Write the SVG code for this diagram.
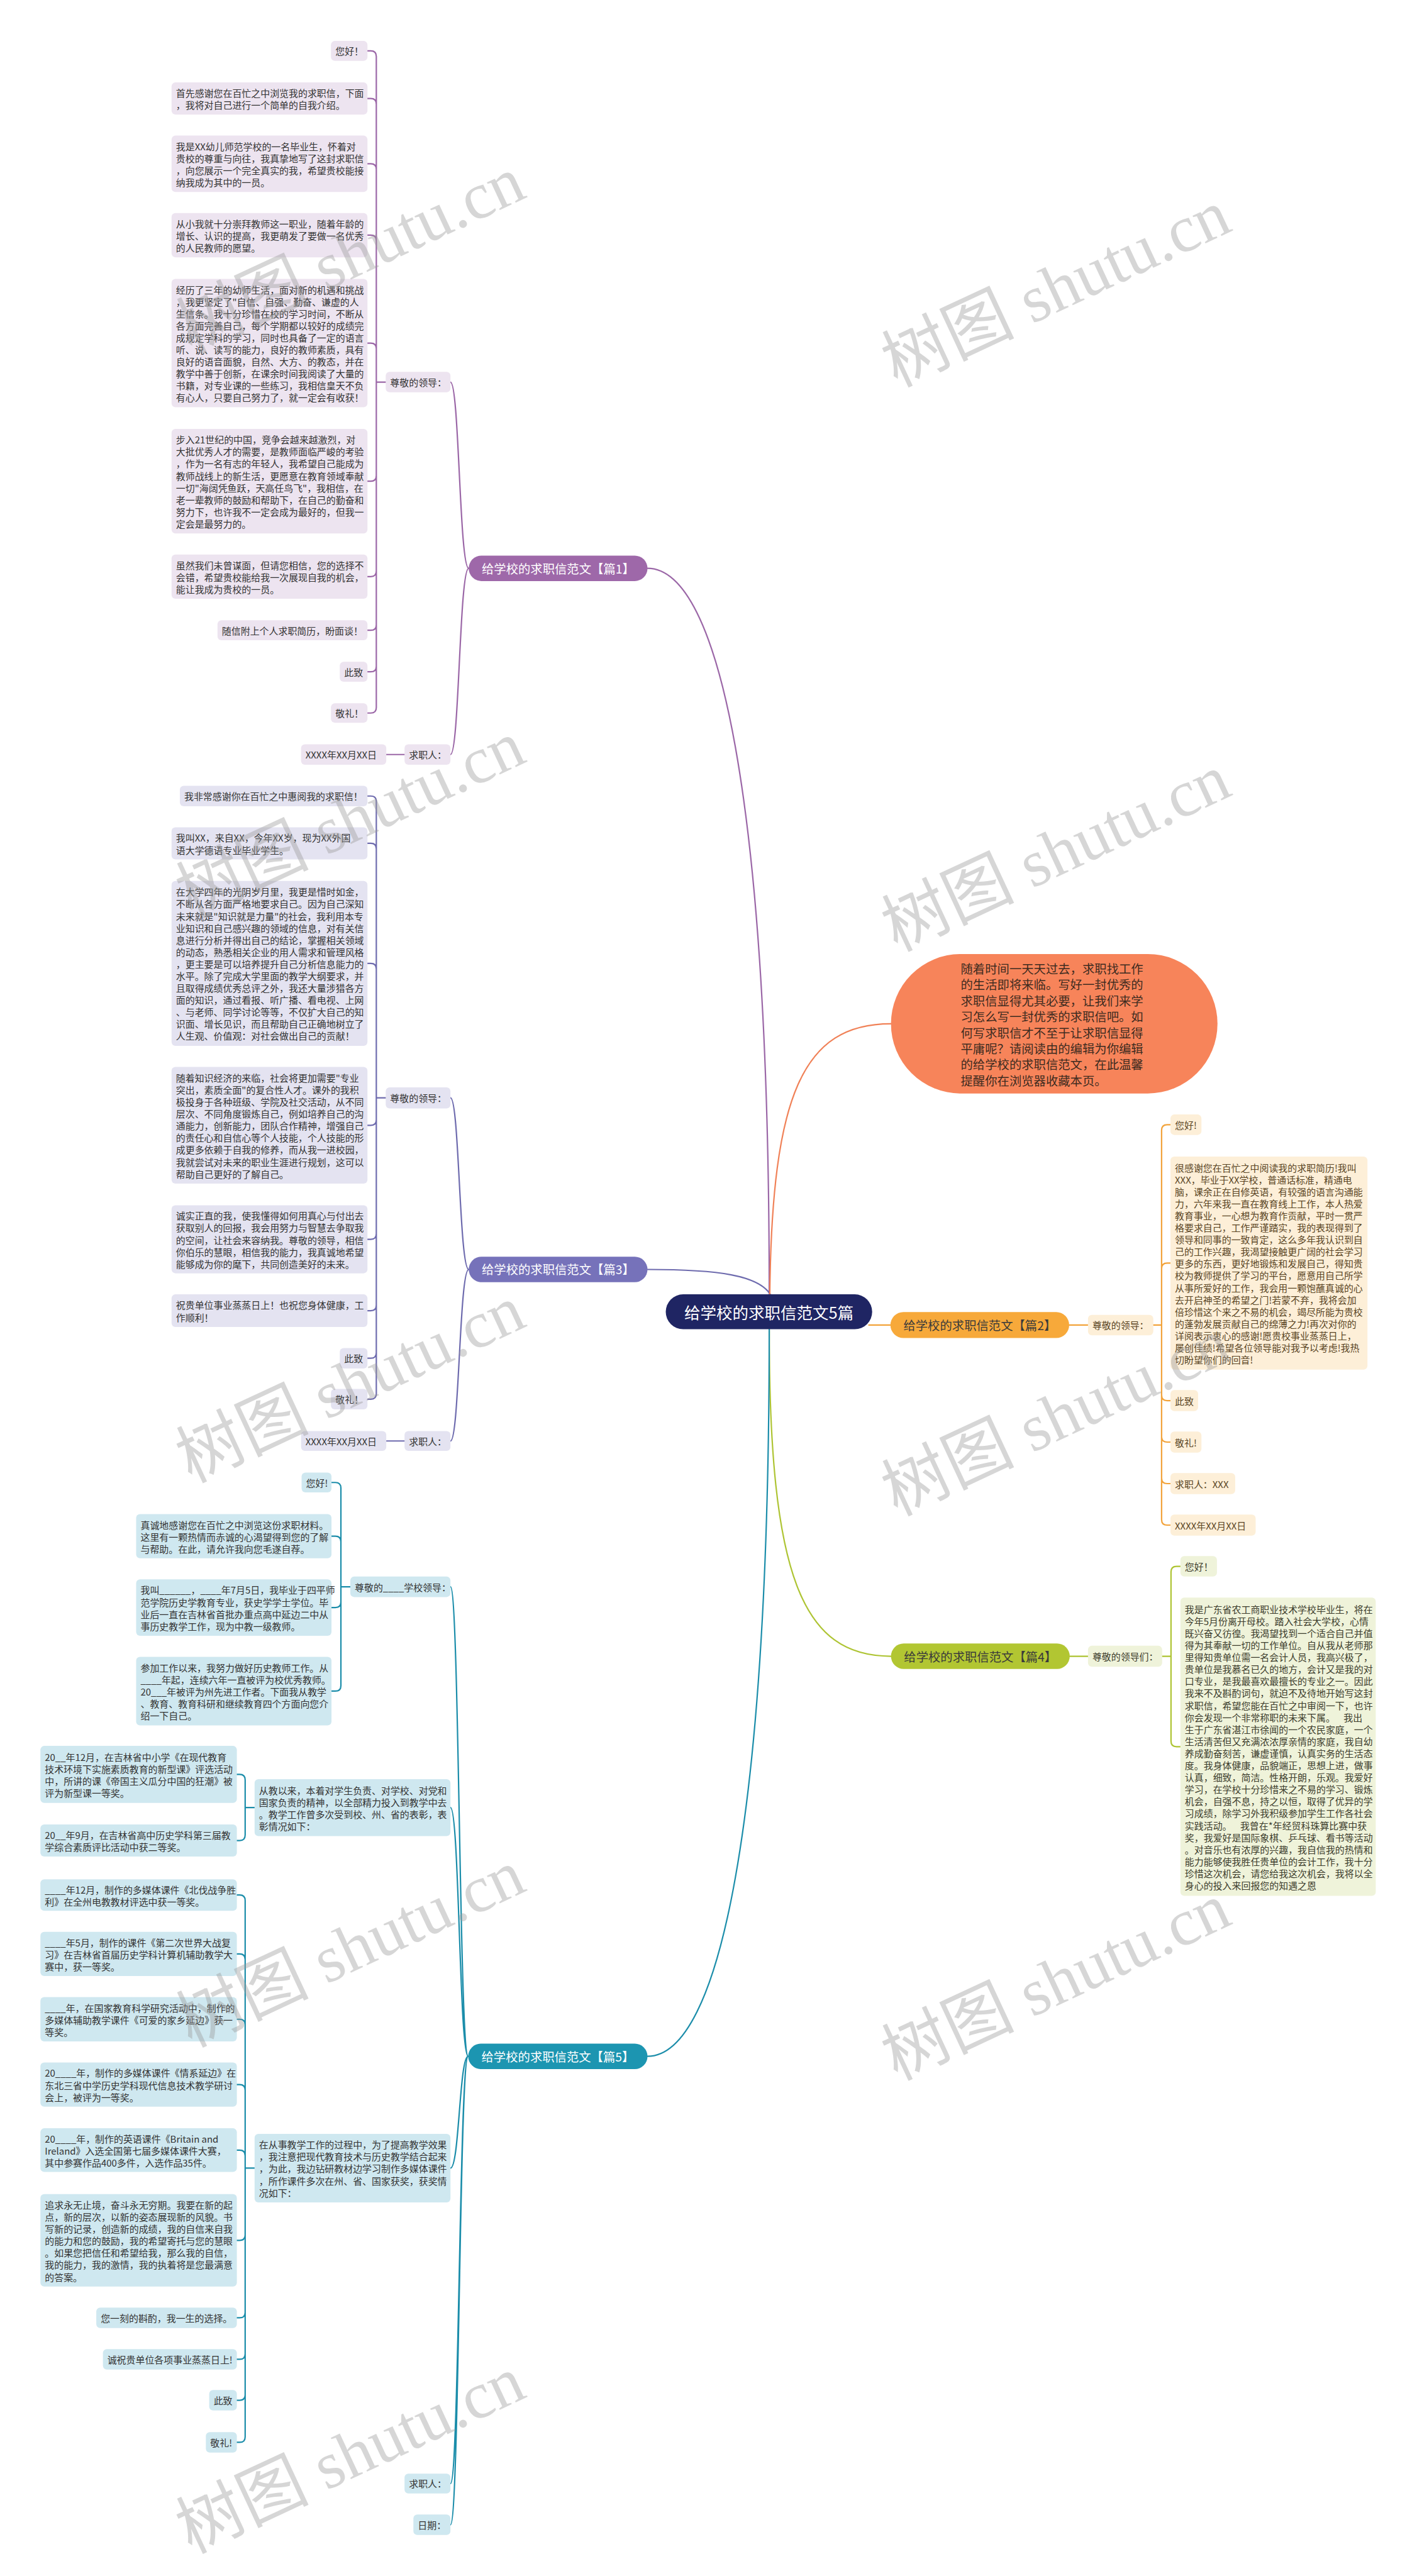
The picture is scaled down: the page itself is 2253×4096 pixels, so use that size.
<svg xmlns="http://www.w3.org/2000/svg" width="2253" height="4096" viewBox="0 0 2253 4096">
<style>
text{font-family:"Noto Sans CJK SC","Noto Sans",sans-serif;dominant-baseline:central}
.t{font-size:17px;fill:#333}
.t2{font-size:17px;fill:#5a4524}
.t4{font-size:17px;fill:#3c3c2c}
.bn{font-size:22px;text-anchor:middle}
.f1{fill:#EDE4F0}.f3{fill:#E4E3F1}.f5{fill:#CFE8F0}.f2{fill:#FDEFD8}.f4{fill:#EFF3DA}
.k{fill:none;stroke-width:2.5;stroke-linecap:round}
.k1{stroke:#9B67A7}.k3{stroke:#6E6BAE}.k5{stroke:#1B8DAA}.k2{stroke:#F2A33B}.k4{stroke:#AEC433}.k0{stroke:#F08157}
.wm{font-family:"Liberation Serif","Noto Sans CJK SC",serif;font-size:120px;fill:#9a9a9a;opacity:.4;dominant-baseline:auto}
</style>
<rect width="2253" height="4096" fill="#fff"/>
<g transform="scale(0.8799)">
<g id="connectors">
<path class="k k1" d="M1170,1027 C1300,1027 1390,1450 1390,2339"/>
<path class="k k3" d="M1170,2294 C1300,2294 1370,2305 1392,2339"/>
<path class="k k0" d="M1391,2339 C1395,1980 1450,1850 1610,1850"/>
<path class="k k2" d="M1570,2394.5 H1609"/>
<path class="k k4" d="M1390,2402 C1390,2850 1450,2993 1610,2993"/>
<path class="k k5" d="M1390,2402 C1390,3293 1300,3716 1170,3716"/>
<path class="k k1" d="M847,1027 C830,1027 830,690.5 814,690.5 M847,1027 C830,1027 830,1363.5 814,1363.5 M731,1363.5 H698"/>
<path class="k k1" d="M697,690.5 H680 V102 Q680,92 670,92 H664 M697,690.5 H680 V188 Q680,178 670,178 H664 M697,690.5 H680 V306 Q680,296 670,296 H664 M697,690.5 H680 V435 Q680,425 670,425 H664 M697,690.5 H680 V630 Q680,620 670,620 H664 M697,690.5 H680 V859.5 Q680,869.5 670,869.5 H664 M697,690.5 H680 V1032 Q680,1042 670,1042 H664 M697,690.5 H680 V1129 Q680,1139 670,1139 H664 M697,690.5 H680 V1204 Q680,1214 670,1214 H664 M697,690.5 H680 V1278.5 Q680,1288.5 670,1288.5 H664"/>
<path class="k k3" d="M847,2294 C830,2294 830,1984 814,1984 M847,2294 C830,2294 830,2604 814,2604 M731,2604 H698"/>
<path class="k k3" d="M697,1984 H680 V1448.5 Q680,1438.5 670,1438.5 H664 M697,1984 H680 V1534 Q680,1524 670,1524 H664 M697,1984 H680 V1751 Q680,1741 670,1741 H664 M697,1984 H680 V2023.5 Q680,2033.5 670,2033.5 H664 M697,1984 H680 V2229.5 Q680,2239.5 670,2239.5 H664 M697,1984 H680 V2358.5 Q680,2368.5 670,2368.5 H664 M697,1984 H680 V2444.5 Q680,2454.5 670,2454.5 H664 M697,1984 H680 V2518.5 Q680,2528.5 670,2528.5 H664"/>
<path class="k k5" d="M846,3716 C830,3716 830,2867.5 814,2867.5 M846,3716 C830,3716 830,3266.5 814,3266.5 M846,3716 C830,3716 830,3918 814,3918 M846,3716 C830,3716 830,4488 814,4488 M846,3716 C830,3716 830,4562.5 814,4562.5"/>
<path class="k k5" d="M633,2867.5 H616 V2689 Q616,2679 606,2679 H599 M633,2867.5 H616 V2786 Q616,2776 606,2776 H599 M633,2867.5 H616 V2895 Q616,2905 606,2905 H599 M633,2867.5 H616 V3046 Q616,3056 606,3056 H599"/>
<path class="k k5" d="M460,3266.5 H443 V3216.5 Q443,3206.5 433,3206.5 H428 M460,3266.5 H443 V3316 Q443,3326 433,3326 H428"/>
<path class="k k5" d="M460,3918 H443 V3434.5 Q443,3424.5 433,3424.5 H428 M460,3918 H443 V3541 Q443,3531 433,3531 H428 M460,3918 H443 V3659 Q443,3649 433,3649 H428 M460,3918 H443 V3777 Q443,3767 433,3767 H428 M460,3918 H443 V3895.5 Q443,3885.5 433,3885.5 H428 M460,3918 H443 V4038.5 Q443,4048.5 433,4048.5 H428 M460,3918 H443 V4178.5 Q443,4188.5 433,4188.5 H428 M460,3918 H443 V4253.5 Q443,4263.5 433,4263.5 H428 M460,3918 H443 V4327.5 Q443,4337.5 433,4337.5 H428 M460,3918 H443 V4403.5 Q443,4413.5 433,4413.5 H428"/>
<path class="k k2" d="M1932,2394.5 H1966 M2084,2394.5 H2099 V2042.5 Q2099,2032.5 2109,2032.5 H2115 M2084,2394.5 H2099 V2292.5 Q2099,2282.5 2109,2282.5 H2115 M2084,2394.5 H2099 V2521 Q2099,2531 2109,2531 H2115 M2084,2394.5 H2099 V2596 Q2099,2606 2109,2606 H2115 M2084,2394.5 H2099 V2671 Q2099,2681 2109,2681 H2115 M2084,2394.5 H2099 V2746 Q2099,2756 2109,2756 H2115"/>
<path class="k k4" d="M1933,2993 H1966 M2100,2993 H2116 V2840.5 Q2116,2830.5 2126,2830.5 H2133 M2100,2993 H2116 V3146.5 Q2116,3156.5 2126,3156.5 H2133"/>
</g>

<g id="center"><rect x="1203" y="2339" width="373" height="63" rx="31.5" fill="#1F2563"/><text x="1389.5" y="2370.5" font-size="29" fill="#fff" text-anchor="middle">给学校的求职信范文5篇</text></g>

<g id="intro"><rect x="1610" y="1724" width="590" height="252" rx="126" fill="#F7845A"/>
<text font-size="22" fill="#3d2b1f" x="1736" y="1750"><tspan x="1736">随着时间一天天过去，求职找工作</tspan><tspan x="1736" dy="28.9">的生活即将来临。写好一封优秀的</tspan><tspan x="1736" dy="28.9">求职信显得尤其必要，让我们来学</tspan><tspan x="1736" dy="28.9">习怎么写一封优秀的求职信吧。如</tspan><tspan x="1736" dy="28.9">何写求职信才不至于让求职信显得</tspan><tspan x="1736" dy="28.9">平庸呢？请阅读由的编辑为你编辑</tspan><tspan x="1736" dy="28.9">的给学校的求职信范文，在此温馨</tspan><tspan x="1736" dy="28.9">提醒你在浏览器收藏本页。</tspan></text></g>

<!-- Branch 1 -->
<g id="b1"><rect x="847" y="1004" width="323" height="46" rx="23" fill="#9E68A9"/><text class="bn" x="1008.5" y="1027" fill="#fff">给学校的求职信范文【篇1】</text></g>
<g id="b1-l2a"><rect class="f1" x="697" y="672" width="117" height="37" rx="7"/><text class="t" x="705" y="690.5">尊敬的领导：</text></g>
<g id="b1-l2b"><rect class="f1" x="731" y="1345" width="83" height="37" rx="7"/><text class="t" x="739" y="1363.5">求职人：</text></g>
<g id="b1-date"><rect class="f1" x="544" y="1345" width="154" height="37" rx="7"/><text class="t" x="552" y="1363.5">XXXX年XX月XX日</text></g>
<g id="b1-1"><rect class="f1" x="598" y="74" width="66" height="36" rx="7"/><text class="t" x="606" y="92">您好！</text></g>
<g id="b1-2"><rect class="f1" x="310" y="149" width="354" height="58" rx="7"/><text class="t" x="318" y="167.15"><tspan x="318">首先感谢您在百忙之中浏览我的求职信，下面</tspan><tspan x="318" dy="21.7">，我将对自己进行一个简单的自我介绍。</tspan></text></g>
<g id="b1-3"><rect class="f1" x="310" y="245" width="354" height="102" rx="7"/><text class="t" x="318" y="263.45"><tspan x="318">我是XX幼儿师范学校的一名毕业生，怀着对</tspan><tspan x="318" dy="21.7">贵校的尊重与向往，我真挚地写了这封求职信</tspan><tspan x="318" dy="21.7">，向您展示一个完全真实的我，希望贵校能接</tspan><tspan x="318" dy="21.7">纳我成为其中的一员。</tspan></text></g>
<g id="b1-4"><rect class="f1" x="310" y="385" width="354" height="80" rx="7"/><text class="t" x="318" y="403.3"><tspan x="318">从小我就十分崇拜教师这一职业，随着年龄的</tspan><tspan x="318" dy="21.7">增长、认识的提高，我更萌发了要做一名优秀</tspan><tspan x="318" dy="21.7">的人民教师的愿望。</tspan></text></g>
<g id="b1-5"><rect class="f1" x="310" y="504" width="354" height="232" rx="7"/><text class="t" x="318" y="522.35"><tspan x="318">经历了三年的幼师生活，面对新的机遇和挑战</tspan><tspan x="318" dy="21.7">，我更坚定了"自信、自强、勤奋、谦虚的人</tspan><tspan x="318" dy="21.7">生信条。我十分珍惜在校的学习时间，不断从</tspan><tspan x="318" dy="21.7">各方面完善自己，每个学期都以较好的成绩完</tspan><tspan x="318" dy="21.7">成规定学科的学习，同时也具备了一定的语言</tspan><tspan x="318" dy="21.7">听、说、读写的能力，良好的教师素质，具有</tspan><tspan x="318" dy="21.7">良好的语音面貌，自然、大方、的教态，并在</tspan><tspan x="318" dy="21.7">教学中善于创新，在课余时间我阅读了大量的</tspan><tspan x="318" dy="21.7">书籍，对专业课的一些练习，我相信皇天不负</tspan><tspan x="318" dy="21.7">有心人，只要自己努力了，就一定会有收获！</tspan></text></g>
<g id="b1-6"><rect class="f1" x="310" y="775" width="354" height="189" rx="7"/><text class="t" x="318" y="793.55"><tspan x="318">步入21世纪的中国，竞争会越来越激烈，对</tspan><tspan x="318" dy="21.7">大批优秀人才的需要，是教师面临严峻的考验</tspan><tspan x="318" dy="21.7">，作为一名有志的年轻人，我希望自己能成为</tspan><tspan x="318" dy="21.7">教师战线上的新生活，更愿意在教育领域奉献</tspan><tspan x="318" dy="21.7">一切"海阔凭鱼跃，天高任鸟飞"，我相信，在</tspan><tspan x="318" dy="21.7">老一辈教师的鼓励和帮助下，在自己的勤奋和</tspan><tspan x="318" dy="21.7">努力下，也许我不一定会成为最好的，但我一</tspan><tspan x="318" dy="21.7">定会是最努力的。</tspan></text></g>
<g id="b1-7"><rect class="f1" x="310" y="1002" width="354" height="80" rx="7"/><text class="t" x="318" y="1020.3"><tspan x="318">虽然我们未曾谋面，但请您相信，您的选择不</tspan><tspan x="318" dy="21.7">会错，希望贵校能给我一次展现自我的机会，</tspan><tspan x="318" dy="21.7">能让我成为贵校的一员。</tspan></text></g>
<g id="b1-8"><rect class="f1" x="393" y="1121" width="271" height="36" rx="7"/><text class="t" x="401" y="1139">随信附上个人求职简历，盼面谈！</text></g>
<g id="b1-9"><rect class="f1" x="614" y="1196" width="50" height="36" rx="7"/><text class="t" x="622" y="1214">此致</text></g>
<g id="b1-10"><rect class="f1" x="598" y="1271" width="66" height="35" rx="7"/><text class="t" x="606" y="1288.5">敬礼！</text></g>

<!-- Branch 3 -->
<g id="b3"><rect x="847" y="2271" width="323" height="46" rx="23" fill="#7672BA"/><text class="bn" x="1008.5" y="2294" fill="#fff">给学校的求职信范文【篇3】</text></g>
<g id="b3-l2a"><rect class="f3" x="697" y="1965" width="117" height="38" rx="7"/><text class="t" x="705" y="1984">尊敬的领导：</text></g>
<g id="b3-l2b"><rect class="f3" x="731" y="2586" width="83" height="36" rx="7"/><text class="t" x="739" y="2604">求职人：</text></g>
<g id="b3-date"><rect class="f3" x="544" y="2586" width="154" height="36" rx="7"/><text class="t" x="552" y="2604">XXXX年XX月XX日</text></g>
<g id="b3-1"><rect class="f3" x="325" y="1420" width="339" height="37" rx="7"/><text class="t" x="333" y="1438.5">我非常感谢你在百忙之中惠阅我的求职信！</text></g>
<g id="b3-2"><rect class="f3" x="310" y="1495" width="354" height="58" rx="7"/><text class="t" x="318" y="1513.15"><tspan x="318">我叫XX，来自XX，今年XX岁，现为XX外国</tspan><tspan x="318" dy="21.7">语大学德语专业毕业学生。</tspan></text></g>
<g id="b3-3"><rect class="f3" x="310" y="1592" width="354" height="298" rx="7"/><text class="t" x="318" y="1610.8"><tspan x="318">在大学四年的光阴岁月里，我更是惜时如金，</tspan><tspan x="318" dy="21.7">不断从各方面严格地要求自己。因为自己深知</tspan><tspan x="318" dy="21.7">未来就是"知识就是力量"的社会，我利用本专</tspan><tspan x="318" dy="21.7">业知识和自己感兴趣的领域的信息，对有关信</tspan><tspan x="318" dy="21.7">息进行分析并得出自己的结论，掌握相关领域</tspan><tspan x="318" dy="21.7">的动态，熟悉相关企业的用人需求和管理风格</tspan><tspan x="318" dy="21.7">，更主要是可以培养提升自己分析信息能力的</tspan><tspan x="318" dy="21.7">水平。除了完成大学里面的教学大纲要求，并</tspan><tspan x="318" dy="21.7">且取得成绩优秀总评之外，我还大量涉猎各方</tspan><tspan x="318" dy="21.7">面的知识，通过看报、听广播、看电视、上网</tspan><tspan x="318" dy="21.7">、与老师、同学讨论等等，不仅扩大自己的知</tspan><tspan x="318" dy="21.7">识面、增长见识，而且帮助自己正确地树立了</tspan><tspan x="318" dy="21.7">人生观、价值观：对社会做出自己的贡献！</tspan></text></g>
<g id="b3-4"><rect class="f3" x="310" y="1928" width="354" height="211" rx="7"/><text class="t" x="318" y="1946.7"><tspan x="318">随着知识经济的来临，社会将更加需要"专业</tspan><tspan x="318" dy="21.7">突出，素质全面"的复合性人才。课外的我积</tspan><tspan x="318" dy="21.7">极投身于各种班级、学院及社交活动，从不同</tspan><tspan x="318" dy="21.7">层次、不同角度锻炼自己，例如培养自己的沟</tspan><tspan x="318" dy="21.7">通能力，创新能力，团队合作精神，增强自己</tspan><tspan x="318" dy="21.7">的责任心和自信心等个人技能，个人技能的形</tspan><tspan x="318" dy="21.7">成更多依赖于自我的修养，而从我一进校园，</tspan><tspan x="318" dy="21.7">我就尝试对未来的职业生涯进行规划，这可以</tspan><tspan x="318" dy="21.7">帮助自己更好的了解自己。</tspan></text></g>
<g id="b3-5"><rect class="f3" x="310" y="2178" width="354" height="123" rx="7"/><text class="t" x="318" y="2196.1"><tspan x="318">诚实正直的我，使我懂得如何用真心与付出去</tspan><tspan x="318" dy="21.7">获取别人的回报，我会用努力与智慧去争取我</tspan><tspan x="318" dy="21.7">的空间，让社会来容纳我。尊敬的领导，相信</tspan><tspan x="318" dy="21.7">你伯乐的慧眼，相信我的能力，我真诚地希望</tspan><tspan x="318" dy="21.7">能够成为你的麾下，共同创造美好的未来。</tspan></text></g>
<g id="b3-6"><rect class="f3" x="310" y="2339" width="354" height="59" rx="7"/><text class="t" x="318" y="2357.65"><tspan x="318">祝贵单位事业蒸蒸日上！也祝您身体健康，工</tspan><tspan x="318" dy="21.7">作顺利！</tspan></text></g>
<g id="b3-7"><rect class="f3" x="614" y="2436" width="50" height="37" rx="7"/><text class="t" x="622" y="2454.5">此致</text></g>
<g id="b3-8"><rect class="f3" x="598" y="2510" width="66" height="37" rx="7"/><text class="t" x="606" y="2528.5">敬礼！</text></g>

<!-- Branch 5 -->
<g id="b5"><rect x="846" y="3693" width="324" height="46" rx="23" fill="#1C95B1"/><text class="bn" x="1008" y="3716" fill="#fff">给学校的求职信范文【篇5】</text></g>
<g id="b5-a"><rect class="f5" x="633" y="2849" width="181" height="37" rx="7"/><text class="t" x="641" y="2867.5">尊敬的____学校领导：</text></g>
<g id="b5-a1"><rect class="f5" x="545" y="2661" width="54" height="36" rx="7"/><text class="t" x="553" y="2679">您好!</text></g>
<g id="b5-a2"><rect class="f5" x="246" y="2736" width="353" height="80" rx="7"/><text class="t" x="254" y="2754.3"><tspan x="254">真诚地感谢您在百忙之中浏览这份求职材料。</tspan><tspan x="254" dy="21.7">这里有一颗热情而赤诚的心渴望得到您的了解</tspan><tspan x="254" dy="21.7">与帮助。在此，请允许我向您毛遂自荐。</tspan></text></g>
<g id="b5-a3"><rect class="f5" x="246" y="2854" width="353" height="102" rx="7"/><text class="t" x="254" y="2872.45"><tspan x="254">我叫______，____年7月5日，我毕业于四平师</tspan><tspan x="254" dy="21.7">范学院历史学教育专业，获史学学士学位。毕</tspan><tspan x="254" dy="21.7">业后一直在吉林省首批办重点高中延边二中从</tspan><tspan x="254" dy="21.7">事历史教学工作，现为中教一级教师。</tspan></text></g>
<g id="b5-a4"><rect class="f5" x="246" y="2994" width="353" height="124" rx="7"/><text class="t" x="254" y="3012.6"><tspan x="254">参加工作以来，我努力做好历史教师工作。从</tspan><tspan x="254" dy="21.7">____年起，连续六年一直被评为校优秀教师。</tspan><tspan x="254" dy="21.7">20___年被评为州先进工作者。下面我从教学</tspan><tspan x="254" dy="21.7">、教育、教育科研和继续教育四个方面向您介</tspan><tspan x="254" dy="21.7">绍一下自己。</tspan></text></g>
<g id="b5-b"><rect class="f5" x="460" y="3215" width="354" height="103" rx="7"/><text class="t" x="468" y="3233.95"><tspan x="468">从教以来，本着对学生负责、对学校、对党和</tspan><tspan x="468" dy="21.7">国家负责的精神，以全部精力投入到教学中去</tspan><tspan x="468" dy="21.7">。教学工作曾多次受到校、州、省的表彰，表</tspan><tspan x="468" dy="21.7">彰情况如下：</tspan></text></g>
<g id="b5-b1"><rect class="f5" x="73" y="3155" width="355" height="103" rx="7"/><text class="t" x="81" y="3173.95"><tspan x="81">20__年12月，在吉林省中小学《在现代教育</tspan><tspan x="81" dy="21.7">技术环境下实施素质教育的新型课》评选活动</tspan><tspan x="81" dy="21.7">中，所讲的课《帝国主义瓜分中国的狂潮》被</tspan><tspan x="81" dy="21.7">评为新型课一等奖。</tspan></text></g>
<g id="b5-b2"><rect class="f5" x="73" y="3297" width="355" height="58" rx="7"/><text class="t" x="81" y="3315.15"><tspan x="81">20__年9月，在吉林省高中历史学科第三届教</tspan><tspan x="81" dy="21.7">学综合素质评比活动中获二等奖。</tspan></text></g>
<g id="b5-c"><rect class="f5" x="460" y="3856" width="354" height="124" rx="7"/><text class="t" x="468" y="3874.6"><tspan x="468">在从事教学工作的过程中，为了提高教学效果</tspan><tspan x="468" dy="21.7">，我注意把现代教育技术与历史教学结合起来</tspan><tspan x="468" dy="21.7">，为此，我边钻研教材边学习制作多媒体课件</tspan><tspan x="468" dy="21.7">，所作课件多次在州、省、国家获奖，获奖情</tspan><tspan x="468" dy="21.7">况如下：</tspan></text></g>
<g id="b5-c1"><rect class="f5" x="73" y="3396" width="355" height="57" rx="7"/><text class="t" x="81" y="3413.65"><tspan x="81">____年12月，制作的多媒体课件《北伐战争胜</tspan><tspan x="81" dy="21.7">利》在全州电教教材评选中获一等奖。</tspan></text></g>
<g id="b5-c2"><rect class="f5" x="73" y="3491" width="355" height="80" rx="7"/><text class="t" x="81" y="3509.3"><tspan x="81">____年5月，制作的课件《第二次世界大战复</tspan><tspan x="81" dy="21.7">习》在吉林省首届历史学科计算机辅助教学大</tspan><tspan x="81" dy="21.7">赛中，获一等奖。</tspan></text></g>
<g id="b5-c3"><rect class="f5" x="73" y="3609" width="355" height="80" rx="7"/><text class="t" x="81" y="3627.3"><tspan x="81">____年，在国家教育科学研究活动中，制作的</tspan><tspan x="81" dy="21.7">多媒体辅助教学课件《可爱的家乡延边》获一</tspan><tspan x="81" dy="21.7">等奖。</tspan></text></g>
<g id="b5-c4"><rect class="f5" x="73" y="3727" width="355" height="80" rx="7"/><text class="t" x="81" y="3745.3"><tspan x="81">20____年，制作的多媒体课件《情系延边》在</tspan><tspan x="81" dy="21.7">东北三省中学历史学科现代信息技术教学研讨</tspan><tspan x="81" dy="21.7">会上，被评为一等奖。</tspan></text></g>
<g id="b5-c5"><rect class="f5" x="73" y="3846" width="355" height="79" rx="7"/><text class="t" x="81" y="3863.8"><tspan x="81">20____年，制作的英语课件《Britain and</tspan><tspan x="81" dy="21.7">Ireland》入选全国第七届多媒体课件大赛，</tspan><tspan x="81" dy="21.7">其中参赛作品400多件，入选作品35件。</tspan></text></g>
<g id="b5-c6"><rect class="f5" x="73" y="3965" width="355" height="167" rx="7"/><text class="t" x="81" y="3983.4"><tspan x="81">追求永无止境，奋斗永无穷期。我要在新的起</tspan><tspan x="81" dy="21.7">点，新的层次，以新的姿态展现新的风貌。书</tspan><tspan x="81" dy="21.7">写新的记录，创造新的成绩，我的自信来自我</tspan><tspan x="81" dy="21.7">的能力和您的鼓励，我的希望寄托与您的慧眼</tspan><tspan x="81" dy="21.7">。如果您把信任和希望给我，那么我的自信，</tspan><tspan x="81" dy="21.7">我的能力，我的激情，我的执着将是您最满意</tspan><tspan x="81" dy="21.7">的答案。</tspan></text></g>
<g id="b5-c7"><rect class="f5" x="174" y="4170" width="254" height="37" rx="7"/><text class="t" x="182" y="4188.5">您一刻的斟酌，我一生的选择。</text></g>
<g id="b5-c8"><rect class="f5" x="186" y="4245" width="242" height="37" rx="7"/><text class="t" x="194" y="4263.5">诚祝贵单位各项事业蒸蒸日上!</text></g>
<g id="b5-c9"><rect class="f5" x="378" y="4319" width="50" height="37" rx="7"/><text class="t" x="386" y="4337.5">此致</text></g>
<g id="b5-c10"><rect class="f5" x="372" y="4395" width="56" height="37" rx="7"/><text class="t" x="380" y="4413.5">敬礼!</text></g>
<g id="b5-d"><rect class="f5" x="731" y="4470" width="83" height="36" rx="7"/><text class="t" x="739" y="4488">求职人：</text></g>
<g id="b5-e"><rect class="f5" x="747" y="4544" width="67" height="37" rx="7"/><text class="t" x="755" y="4562.5">日期：</text></g>

<!-- Branch 2 -->
<g id="b2"><rect x="1609" y="2371" width="323" height="47" rx="23.5" fill="#F7A93A"/><text class="bn" x="1770.5" y="2394.5" fill="#3a3a3a">给学校的求职信范文【篇2】</text></g>
<g id="b2-l"><rect class="f2" x="1966" y="2376" width="118" height="37" rx="7"/><text class="t2" x="1974" y="2394.5">尊敬的领导：</text></g>
<g id="b2-1"><rect class="f2" x="2115" y="2014" width="56" height="37" rx="7"/><text class="t2" x="2123" y="2032.5">您好!</text></g>
<g id="b2-2"><rect class="f2" x="2115" y="2090" width="356" height="385" rx="7"/><text class="t2" x="2123" y="2108.9"><tspan x="2123">很感谢您在百忙之中阅读我的求职简历!我叫</tspan><tspan x="2123" dy="21.7">XXX，毕业于XX学校，普通话标准，精通电</tspan><tspan x="2123" dy="21.7">脑，课余正在自修英语，有较强的语言沟通能</tspan><tspan x="2123" dy="21.7">力，六年来我一直在教育线上工作，本人热爱</tspan><tspan x="2123" dy="21.7">教育事业，一心想为教育作贡献，平时一贯严</tspan><tspan x="2123" dy="21.7">格要求自己，工作严谨踏实，我的表现得到了</tspan><tspan x="2123" dy="21.7">领导和同事的一致肯定，这么多年我认识到自</tspan><tspan x="2123" dy="21.7">己的工作兴趣，我渴望接触更广阔的社会学习</tspan><tspan x="2123" dy="21.7">更多的东西，更好地锻炼和发展自己，得知贵</tspan><tspan x="2123" dy="21.7">校为教师提供了学习的平台，愿意用自己所学</tspan><tspan x="2123" dy="21.7">从事所爱好的工作，我会用一颗饱蘸真诚的心</tspan><tspan x="2123" dy="21.7">去开启神圣的希望之门!若蒙不弃，我将会加</tspan><tspan x="2123" dy="21.7">倍珍惜这个来之不易的机会，竭尽所能为贵校</tspan><tspan x="2123" dy="21.7">的蓬勃发展贡献自己的绵薄之力!再次对你的</tspan><tspan x="2123" dy="21.7">详阅表示衷心的感谢!愿贵校事业蒸蒸日上，</tspan><tspan x="2123" dy="21.7">屡创佳绩!希望各位领导能对我予以考虑!我热</tspan><tspan x="2123" dy="21.7">切盼望你们的回音!</tspan></text></g>
<g id="b2-3"><rect class="f2" x="2115" y="2512" width="50" height="38" rx="7"/><text class="t2" x="2123" y="2531">此致</text></g>
<g id="b2-4"><rect class="f2" x="2115" y="2587" width="56" height="38" rx="7"/><text class="t2" x="2123" y="2606">敬礼!</text></g>
<g id="b2-5"><rect class="f2" x="2115" y="2662" width="117" height="38" rx="7"/><text class="t2" x="2123" y="2681">求职人：XXX</text></g>
<g id="b2-6"><rect class="f2" x="2115" y="2737" width="154" height="38" rx="7"/><text class="t2" x="2123" y="2756">XXXX年XX月XX日</text></g>

<!-- Branch 4 -->
<g id="b4"><rect x="1610" y="2970" width="323" height="46" rx="23" fill="#B2C632"/><text class="bn" x="1771.5" y="2993" fill="#3a3a3a">给学校的求职信范文【篇4】</text></g>
<g id="b4-l"><rect class="f4" x="1966" y="2974" width="134" height="38" rx="7"/><text class="t4" x="1974" y="2993">尊敬的领导们：</text></g>
<g id="b4-1"><rect class="f4" x="2133" y="2812" width="66" height="37" rx="7"/><text class="t4" x="2141" y="2830.5">您好！</text></g>
<g id="b4-2"><rect class="f4" x="2133" y="2887" width="353" height="539" rx="7"/><text class="t4" x="2141" y="2906.95" style="white-space:pre"><tspan x="2141">我是广东省农工商职业技术学校毕业生，将在</tspan><tspan x="2141" dy="21.7">今年5月份离开母校。踏入社会大学校，心情</tspan><tspan x="2141" dy="21.7">既兴奋又彷徨。我渴望找到一个适合自己并值</tspan><tspan x="2141" dy="21.7">得为其奉献一切的工作单位。自从我从老师那</tspan><tspan x="2141" dy="21.7">里得知贵单位需一名会计人员，我高兴极了，</tspan><tspan x="2141" dy="21.7">贵单位是我慕名已久的地方，会计又是我的对</tspan><tspan x="2141" dy="21.7">口专业，是我最喜欢最擅长的专业之一。因此</tspan><tspan x="2141" dy="21.7">我来不及斟酌词句，就迫不及待地开始写这封</tspan><tspan x="2141" dy="21.7">求职信，希望您能在百忙之中审阅一下，也许</tspan><tspan x="2141" dy="21.7">你会发现一个非常称职的未来下属。    我出</tspan><tspan x="2141" dy="21.7">生于广东省湛江市徐闻的一个农民家庭，一个</tspan><tspan x="2141" dy="21.7">生活清苦但又充满浓浓厚亲情的家庭，我自幼</tspan><tspan x="2141" dy="21.7">养成勤奋刻苦，谦虚谨慎，认真实务的生活态</tspan><tspan x="2141" dy="21.7">度。我身体健康，品貌端正，思想上进，做事</tspan><tspan x="2141" dy="21.7">认真，细致，简洁。性格开朗，乐观。我爱好</tspan><tspan x="2141" dy="21.7">学习，在学校十分珍惜来之不易的学习、锻炼</tspan><tspan x="2141" dy="21.7">机会，自强不息，持之以恒，取得了优异的学</tspan><tspan x="2141" dy="21.7">习成绩，除学习外我积级参加学生工作各社会</tspan><tspan x="2141" dy="21.7">实践活动。    我曾在*年经贸科珠算比赛中获</tspan><tspan x="2141" dy="21.7">奖，我爱好是国际象棋、乒乓球、看书等活动</tspan><tspan x="2141" dy="21.7">。对音乐也有浓厚的兴趣，我自信我的热情和</tspan><tspan x="2141" dy="21.7">能力能够使我胜任贵单位的会计工作，我十分</tspan><tspan x="2141" dy="21.7">珍惜这次机会，请您给我这次机会，我将以全</tspan><tspan x="2141" dy="21.7">身心的投入来回报您的知遇之恩</tspan></text></g>

<g id="watermarks">
<text class="wm" transform="translate(345,640) rotate(-25)">树图 shutu.cn</text>
<text class="wm" transform="translate(345,1660) rotate(-25)">树图 shutu.cn</text>
<text class="wm" transform="translate(345,2680) rotate(-25)">树图 shutu.cn</text>
<text class="wm" transform="translate(345,3700) rotate(-25)">树图 shutu.cn</text>
<text class="wm" transform="translate(345,4615) rotate(-25)">树图 shutu.cn</text>
<text class="wm" transform="translate(1620,700) rotate(-25)">树图 shutu.cn</text>
<text class="wm" transform="translate(1620,1720) rotate(-25)">树图 shutu.cn</text>
<text class="wm" transform="translate(1620,2740) rotate(-25)">树图 shutu.cn</text>
<text class="wm" transform="translate(1620,3760) rotate(-25)">树图 shutu.cn</text>
</g>
</g>
</svg>
